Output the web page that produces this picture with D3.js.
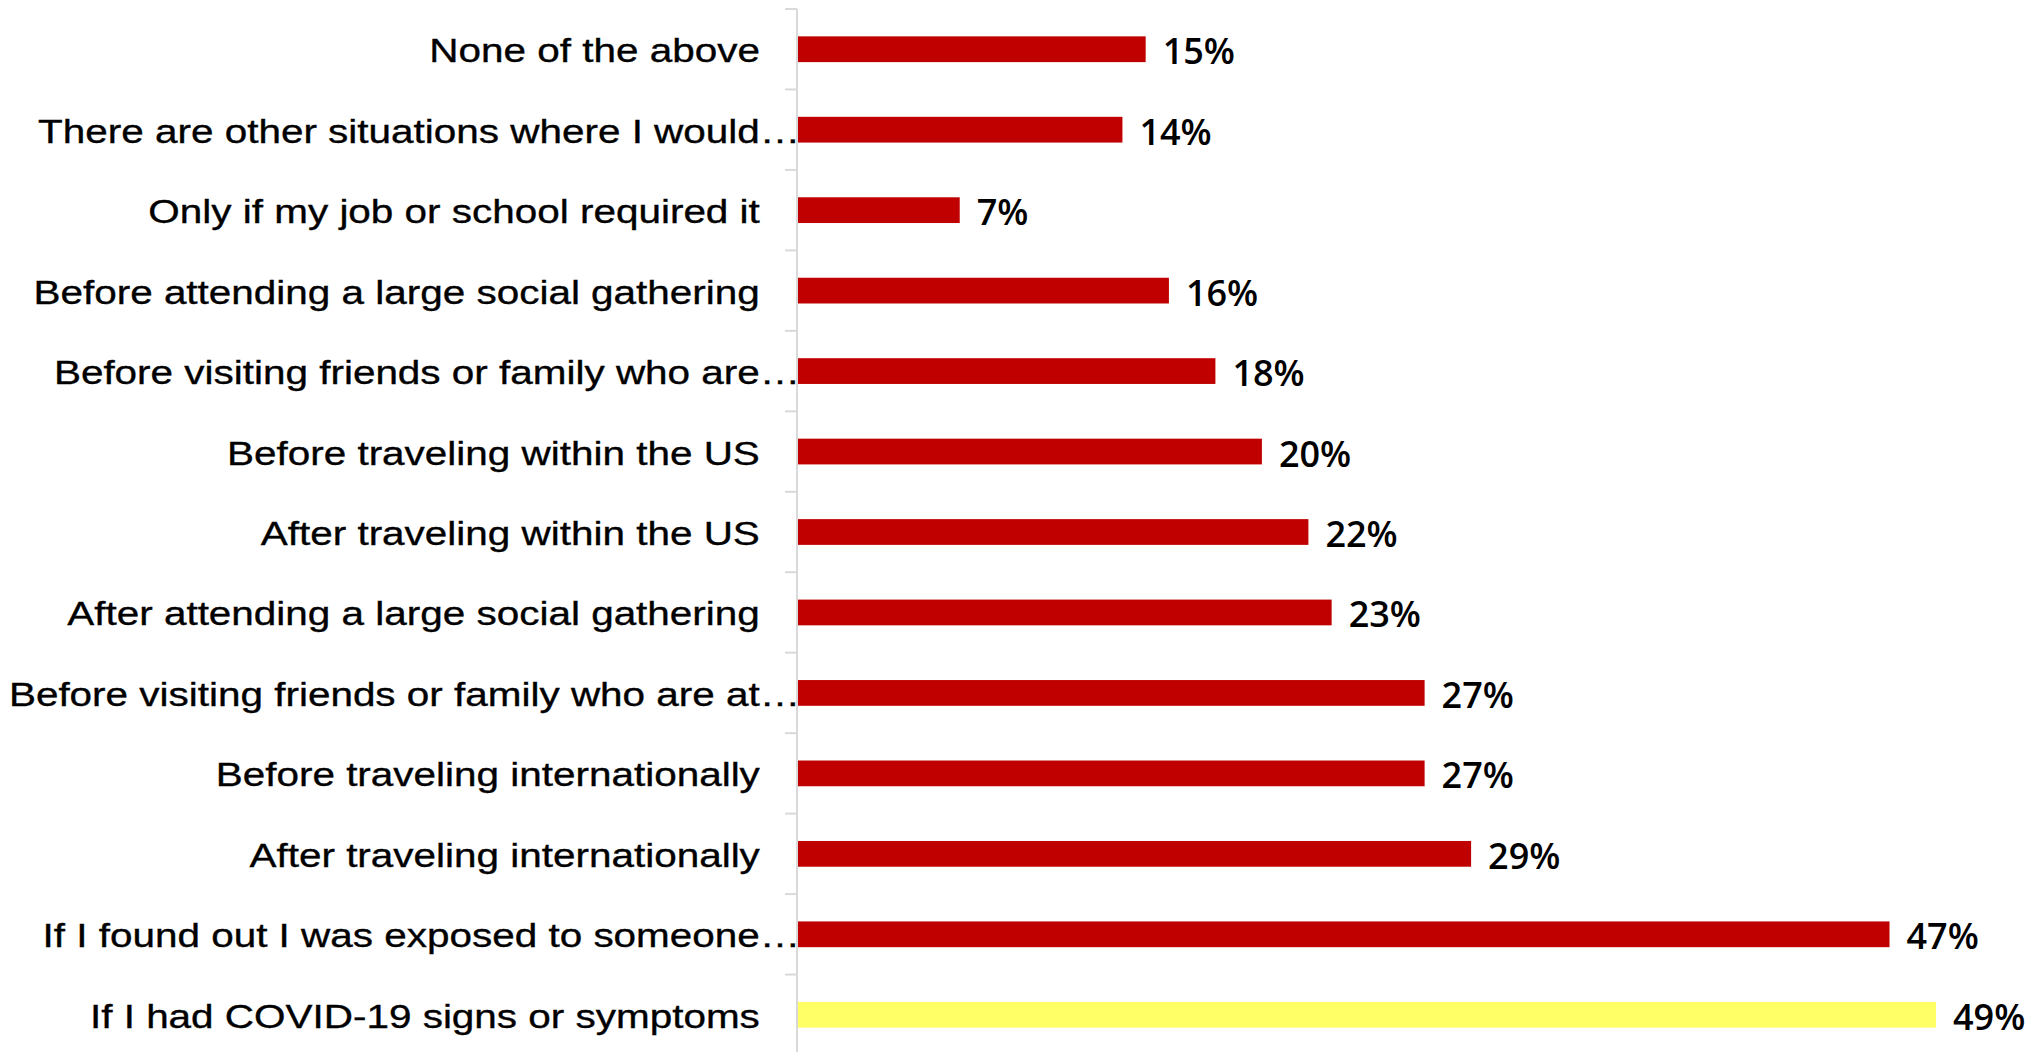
<!DOCTYPE html>
<html>
<head>
<meta charset="utf-8">
<script src="https://cdn.jsdelivr.net/npm/d3@7"></script>
<style>
  html, body { margin: 0; padding: 0; background: #fff; }
  svg { display: block; }
</style>
</head>
<body>
<svg id="chart" width="2036" height="1052"></svg>
<script>
const categories = [
  "None of the above",
  "There are other situations where I would…",
  "Only if my job or school required it",
  "Before attending a large social gathering",
  "Before visiting friends or family who are…",
  "Before traveling within the US",
  "After traveling within the US",
  "After attending a large social gathering",
  "Before visiting friends or family who are at…",
  "Before traveling internationally",
  "After traveling internationally",
  "If I found out I was exposed to someone…",
  "If I had COVID-19 signs or symptoms"
];
const values = [15, 14, 7, 16, 18, 20, 22, 23, 27, 27, 29, 47, 49];
const highlighted = ["If I had COVID-19 signs or symptoms"];

const W = 2036, H = 1052;
const axisX = 797;
const svg = d3.select("#chart");

const y = d3.scaleBand().domain(categories).range([9, 1055]).padding(0);
const x = d3.scaleLinear().domain([0, 49]).range([axisX, 1936]);
const barH = y.bandwidth() * 0.32;

// bars
svg.append("g").selectAll("rect")
  .data(categories)
  .join("rect")
  .attr("x", x(0) + 1)
  .attr("y", d => y(d) + y.bandwidth() / 2 - barH / 2)
  .attr("width", (d, i) => x(values[i]) - x(0) - 1)
  .attr("height", barH)
  .attr("fill", d => highlighted.includes(d) ? "#FFFF66" : "#C00000");

// axis
const axis = d3.axisLeft(y).tickSize(12).tickFormat("");
const gAxis = svg.append("g").attr("transform", `translate(${axisX},0)`).call(axis);
gAxis.select(".domain").attr("stroke", "#D9D9D9").attr("stroke-width", 2)
  .attr("d", `M0,9V1055`);
// ticks at band boundaries
gAxis.selectAll(".tick").remove();
const bounds = categories.map(c => y(c));
gAxis.selectAll("line.bt").data(bounds).join("line")
  .attr("class", "bt")
  .attr("x1", -12).attr("x2", 0)
  .attr("y1", d => d).attr("y2", d => d)
  .attr("stroke", "#D9D9D9").attr("stroke-width", 2);

// category labels
const labelRight = 760;
const sx = 1.19;
const labels = svg.append("g").attr("font-family", "'Liberation Sans', Arial, sans-serif")
  .attr("font-size", 34).attr("fill", "#000")
  .attr("stroke", "#000").attr("stroke-width", 0.35);
categories.forEach((c, i) => {
  const cy = y(c) + y.bandwidth() / 2 + 13;
  const hasEll = c.endsWith("…");
  const main = hasEll ? c.slice(0, -1) : c;
  const t = labels.append("text").attr("text-anchor", "start");
  t.append("tspan").text(main);
  if (hasEll) t.append("tspan").text("…");
  const len = t.node().getSubStringLength(0, main.length);
  t.attr("transform", `translate(${labelRight - len * sx},${cy}) scale(${sx},1)`);
});

// value labels
svg.append("g").selectAll("text")
  .data(categories)
  .join("text")
  .attr("x", (d, i) => x(values[i]) + 17)
  .attr("y", d => y(d) + y.bandwidth() / 2 + 15)
  .attr("font-family", "'Open Sans', Roboto, sans-serif")
  .attr("font-size", 36)
  .attr("font-weight", 600)
  .attr("fill", "#000")
  .text((d, i) => values[i] + "%");
</script>
</body>
</html>
